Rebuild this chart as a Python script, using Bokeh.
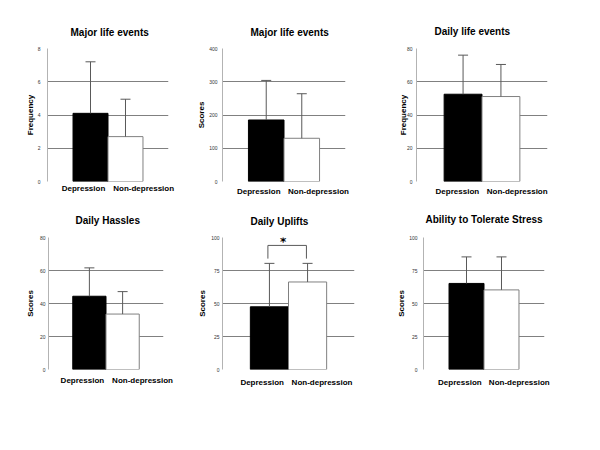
from bokeh.plotting import figure
from bokeh.layouts import column, row
from bokeh.models import Range1d, FixedTicker, Whisker, TeeHead, ColumnDataSource, Title
from bokeh.core.properties import value
from bokeh.embed import file_html
from bokeh.resources import INLINE

# ---------------- data ----------------
categories = ["Depression", "Non-depression"]
titles = ["Major life events", "Major life events", "Daily life events",
          "Daily Hassles", "Daily Uplifts", "Ability to Tolerate Stress"]
y_labels = ["Frequency", "Scores", "Frequency", "Scores", "Scores", "Scores"]
y_max = [8, 400, 80, 80, 100, 100]
y_ticks = [[0, 2, 4, 6, 8], [0, 100, 200, 300, 400], [0, 20, 40, 60, 80],
           [0, 20, 40, 60, 80], [0, 25, 50, 75, 100], [0, 25, 50, 75, 100]]

major_life_freq_mean = [4.1, 2.7]
major_life_freq_sd = [3.1, 2.25]
major_life_score_mean = [185, 130]
major_life_score_sd = [119, 134]
daily_life_freq_mean = [52.5, 51.1]
daily_life_freq_sd = [23.5, 19.3]
daily_hassles_mean = [44.4, 33.6]
daily_hassles_sd = [17.2, 13.6]
daily_uplifts_mean = [47.5, 66.3]
daily_uplifts_sd = [32.9, 14.1]
stress_tol_mean = [65.2, 60.3]
stress_tol_sd = [20.1, 25.0]

means = [major_life_freq_mean, major_life_score_mean, daily_life_freq_mean,
         daily_hassles_mean, daily_uplifts_mean, stress_tol_mean]
sds = [major_life_freq_sd, major_life_score_sd, daily_life_freq_sd,
       daily_hassles_sd, daily_uplifts_sd, stress_tol_sd]

# significance marker (Daily Uplifts)
sig_panel = 4
sig_bracket_y = 94
sig_bracket_drop = 84
sig_mark = "*"

# ---------------- layout / style ----------------
# width, height, left, right, top, bottom, title_offset, title_standoff,
# tick_standoff, xlabel_standoff, ylabel_standoff, xlabel_positions
specs = [
    (175, 198, 47, 7, 46, 17, 23, 18, 7, 2, 0, (0.30, 2.02)),
    (210, 198, 47, 40, 46, 16, 28, 18, 5, 5, 0, (0.29, 1.97)),
    (207, 198, 31, 45, 48, 16, 18, 19, 4, 5, -4, (0.35, 1.93)),
    (180, 202, 48, 17, 39, 30, 27, 19, 3, 6, 2, (0.29, 2.10)),
    (210, 202, 42, 36, 39, 30, 28, 17, 3, 8, 1, (0.31, 1.88)),
    (202, 202, 33, 48, 35, 31, 2, 21, 6, 8, 0, (0.31, 2.01)),
]

FONT = "Liberation Sans"
bar_x = [0.5, 1.5]
figs = []
for i in range(6):
    w, h, L, R, T, B, t_off, t_so, tk_so, xl_so, yl_so, xl_pos = specs[i]
    p = figure(width=w, height=h, output_backend="svg", toolbar_location=None,
               x_range=Range1d(-0.73, 2.73), y_range=Range1d(0, y_max[i]),
               min_border_left=L, min_border_right=R, min_border_top=T,
               min_border_bottom=B, outline_line_color=None,
               background_fill_color="white", border_fill_color="white")
    p.title = Title(text=titles[i], align="left", offset=t_off, standoff=t_so,
                    vertical_align="top",
                    text_font=FONT, text_font_size="10px", text_font_style="bold",
                    text_color="black")
    src = ColumnDataSource(dict(x=bar_x, mean=means[i],
                                top=[m + s for m, s in zip(means[i], sds[i])],
                                fill=["black", "white"], line=["black", "#808080"]))
    p.vbar(x="x", top="mean", bottom=0, width=1.0, source=src,
           fill_color="fill", line_color="line", line_width=1)
    p.add_layout(Whisker(source=src, base="x", lower="mean", upper="top",
                         dimension="height", line_color="#595959", line_width=1,
                         upper_head=TeeHead(size=10, line_color="#595959", line_width=1),
                         lower_head=None, level="glyph"))

    yt = FixedTicker(ticks=y_ticks[i])
    p.yaxis.ticker = yt
    p.ygrid.ticker = yt
    p.ygrid.grid_line_color = "#808080"
    p.xgrid.visible = False
    p.yaxis.axis_line_color = "#b3b3b3"
    p.yaxis.major_tick_line_color = None
    p.yaxis.minor_tick_line_color = None
    p.yaxis.major_tick_out = 0
    p.yaxis.major_label_standoff = tk_so
    p.yaxis.major_label_text_font = FONT
    p.yaxis.major_label_text_font_size = "5px"
    p.yaxis.major_label_text_color = "#333333"
    p.yaxis.axis_label = y_labels[i]
    p.yaxis.axis_label_text_font = FONT
    p.yaxis.axis_label_text_font_size = "8px"
    p.yaxis.axis_label_text_font_style = "bold"
    p.yaxis.axis_label_text_color = "black"
    p.yaxis.axis_label_standoff = yl_so

    p.xaxis.ticker = FixedTicker(ticks=list(xl_pos))
    p.xaxis.major_label_overrides = {xl_pos[0]: categories[0], xl_pos[1]: categories[1]}
    p.xaxis.axis_line_color = None
    p.xaxis.major_tick_line_color = None
    p.xaxis.minor_tick_line_color = None
    p.xaxis.major_tick_out = 0
    p.xaxis.major_label_standoff = xl_so
    p.xaxis.major_label_text_font = FONT
    p.xaxis.major_label_text_font_size = "8px"
    p.xaxis.major_label_text_font_style = "bold"
    p.xaxis.major_label_text_color = "black"

    if i == sig_panel:
        p.segment(x0=[0.46, 0.46, 1.47], y0=[sig_bracket_y, sig_bracket_y, sig_bracket_y],
                  x1=[1.47, 0.46, 1.47], y1=[sig_bracket_y, sig_bracket_drop, sig_bracket_drop],
                  line_color="#595959", line_width=1)
        p.text(x=[0.86], y=[96.5], text=[sig_mark], text_align="center",
               text_baseline="alphabetic", text_font=value("DejaVu Sans"),
               text_font_size="12px", text_font_style="bold", text_color="black")
    figs.append(p)

layout = column(row(figs[0], figs[1], figs[2]), row(figs[3], figs[4], figs[5]))
open("out.html", "w").write(file_html(layout, INLINE))
